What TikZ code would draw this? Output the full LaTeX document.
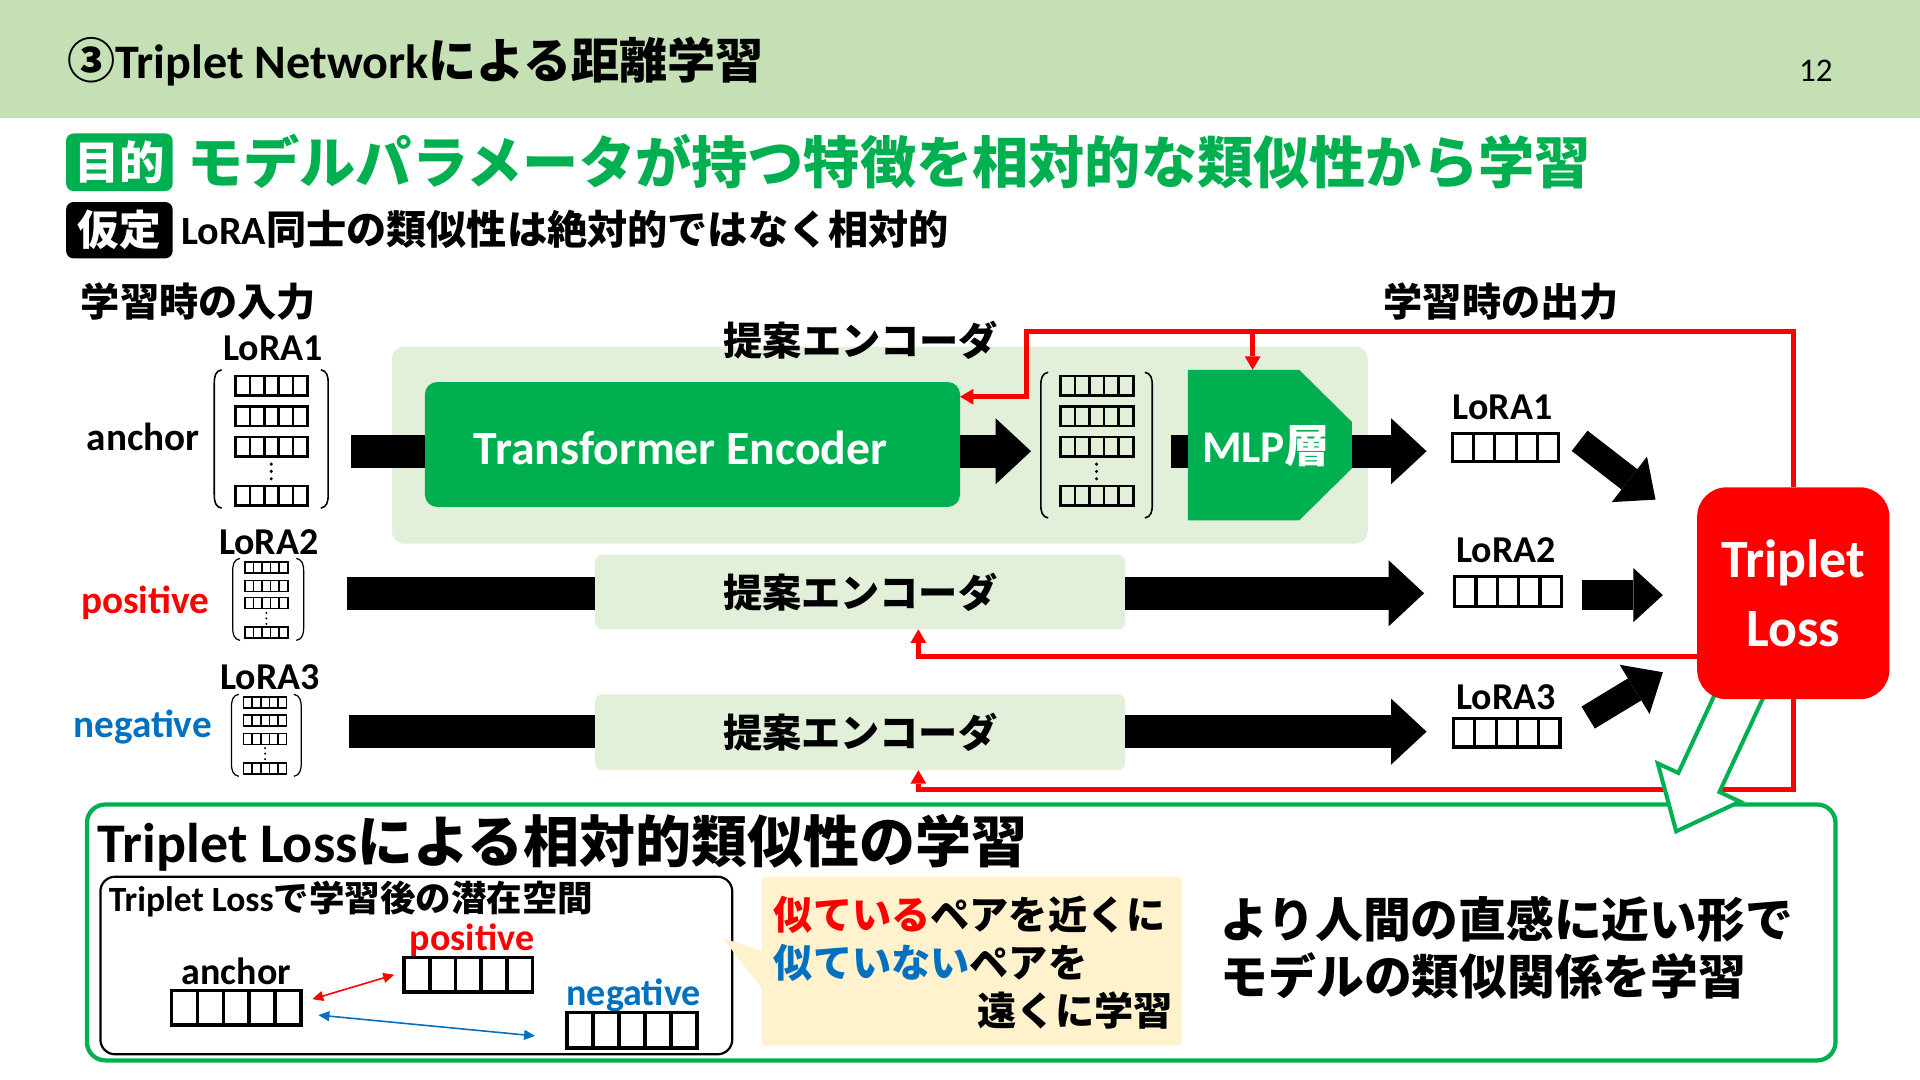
\documentclass[tikz,border=0pt]{standalone}
\usepackage{fontspec}
\setmainfont{Carlito}
\newfontfamily\jpfont{Noto Sans CJK JP}
\usetikzlibrary{arrows.meta}
\definecolor{hdr}{HTML}{C5E0B4}
\definecolor{gr}{HTML}{00B050}
\definecolor{lgr}{HTML}{E2F0D9}
\definecolor{rd}{HTML}{FF0000}
\definecolor{bl}{HTML}{0070C0}
\definecolor{yl}{HTML}{FFF2CC}
% automatic switch to the Japanese font for CJK characters
\XeTeXinterchartokenstate=1
\newXeTeXintercharclass\JPclass
\newcount\jpcnt
\def\jprange#1#2{\jpcnt=#1\relax\loop\XeTeXcharclass\jpcnt=\JPclass\relax\ifnum\jpcnt<#2\advance\jpcnt by 1\repeat}
\jprange{"3000}{"30FF}
\jprange{"4E00}{"9FFF}
\jprange{"FF00}{"FFEF}
\jprange{"2460}{"24FF}
\XeTeXinterchartoks 0 \JPclass = {\jpfont}
\XeTeXinterchartoks 4095 \JPclass = {\jpfont}
\XeTeXinterchartoks \JPclass 0 = {\rmfamily}
\XeTeXinterchartoks \JPclass 4095 = {\rmfamily}
\tikzset{pics/cellrow/.style 2 args={code={\foreach \i in {0,...,4}{\draw (\i*#1,0) rectangle ++(#1,#2);}}}}
\newcommand\lorabrk[5]{%
 \draw[line width=#5] ({#1+6},#3) .. controls ({#1+1},{#3+1}) and (#1,{#3+5}) .. (#1,{#3+11}) -- (#1,{#4-11}) .. controls (#1,{#4-5}) and ({#1+1},{#4-1}) .. ({#1+6},#4);
 \draw[line width=#5] ({#2-6},#3) .. controls ({#2-1},{#3+1}) and (#2,{#3+5}) .. (#2,{#3+11}) -- (#2,{#4-11}) .. controls (#2,{#4-5}) and ({#2-1},{#4-1}) .. ({#2-6},#4);
}
\newcommand\loradots[4]{\foreach \k in {0,1,2}{\fill (#1,{#2+\k*#3}) circle (#4);}}
\begin{document}
\begin{tikzpicture}[x=1pt,y=-1pt,
 every node/.style={inner sep=0pt,outer sep=0pt},
 ft/.style={font=\bfseries\fontsize{#1}{#1}\selectfont},
 ftt/.style 2 args={font=\bfseries\fontsize{#1}{#2}\selectfont},
 barl/.style={line width=27pt},
 fatarr/.style={line width=27pt,-{Triangle[length=29pt,width=54pt,line width=0pt]}},
 fatdiag/.style={line width=21pt,-{Triangle[length=27pt,width=47pt,line width=0pt]}},
 fatsmall/.style={line width=24pt,-{Triangle[length=24pt,width=44pt,line width=0pt]}},
 redl/.style={draw=rd,line width=3.9pt},
 redarr/.style={redl,-{Triangle[length=11pt,width=13pt,line width=0pt]}},
 thinarr/.style={line width=1.3pt,{Triangle[length=9pt,width=8pt]}-{Triangle[length=9pt,width=8pt]}},
 lbox/.style={fill=lgr,rounded corners=6pt},
]
\useasboundingbox (0,0) rectangle (1568,882);
\fill[white] (0,0) rectangle (1568,882);
% header
\fill[hdr] (0,0) rectangle (1568,96.5);
\node[ft=39.3,anchor=west] (title) at (55,50) {③Triplet Networkによる距離学習};
\node[font=\fontsize{27}{27}\selectfont] (pg) at (1483,58) {12};
% goal / assumption
\node[fill=gr,rounded corners=6pt,minimum width=87pt,minimum height=47pt,text=white,ft=37] (goal) at (97.5,132.5) {目的};
\node[ft=45.9,text=gr,anchor=west] (goaltxt) at (153,132) {モデルパラメータが持つ特徴を相対的な類似性から学習};
\node[fill=black,rounded corners=6pt,minimum width=87pt,minimum height=46pt,text=white,ft=34] (assume) at (97.5,188) {仮定};
\node[ft=32.8,anchor=west] (asmtxt) at (148,187) {LoRA同士の類似性は絶対的ではなく相対的};
% column headers
\node[ft=32] (inhdr) at (162,246) {学習時の入力};
\node[ft=32] (outhdr) at (1226,246) {学習時の出力};
% encoder boxes
\node[fill=lgr,rounded corners=10pt,minimum width=797pt,minimum height=161pt] (enc1) at (718.5,363.5) {};
\node[ft=32] (enc1lbl) at (703,278) {提案エンコーダ};
\node[fill=gr,rounded corners=10pt,minimum width=437pt,minimum height=102pt] (tfe) at (565.5,363) {};
\node[ft=39,text=white] (tfetxt) at (556,366) {Transformer Encoder};
\node[lbox,minimum width=433pt,minimum height=61pt,ft=32] (enc2) at (702.5,483.5) {提案エンコーダ};
\node[lbox,minimum width=433pt,minimum height=62pt,ft=32] (enc3) at (702.5,598) {提案エンコーダ};
% MLP
\node[minimum width=134pt,minimum height=123pt] (mlpb) at (1037,363.5) {};
\fill[gr] (mlpb.north west) -- ([xshift=-43pt]mlpb.north east) -- ([yshift=19pt]mlpb.east) -- ([yshift=-19pt]mlpb.east) -- ([xshift=-43pt]mlpb.south east) -- (mlpb.south west) -- cycle;
\node[ft=37,text=white] (mlp) at (1034,364) {MLP層};
% input labels
\node[ft=32] (anc) at (117,357) {anchor};
\node[ft=32,text=rd] (pos) at (118.5,492) {positive};
\node[ft=32,text=bl] (neg) at (116.5,594) {negative};
\node[ft=31] (in1) at (223,284.5) {LoRA1};
\node[ft=31] (in2) at (219.5,443) {LoRA2};
\node[ft=31] (in3) at (220.5,553) {LoRA3};
% input matrices
\foreach \yy in {307,332,357,397}{\pic[line width=2.2pt] at (192.5,\yy) {cellrow={11.7}{16}};}
\loradots{221.5}{379}{6}{1.4}
\lorabrk{175}{268}{302}{415}{1.3pt}
\foreach \yy in {459,474,488,512}{\pic[line width=1.3pt] at (200,\yy) {cellrow={7}{9}};}
\loradots{217.5}{500.5}{4.5}{0.9}
\lorabrk{190}{248}{456}{523}{1pt}
\foreach \yy in {569,584,599,623}{\pic[line width=1.3pt] at (199,\yy) {cellrow={7}{9}};}
\loradots{216.5}{611}{4.5}{0.9}
\lorabrk{189}{246}{567}{634}{1pt}
% middle matrix
\foreach \yy in {307,332,357,397}{\pic[line width=2.2pt] at (866,\yy) {cellrow={11.9}{16}};}
\loradots{895.5}{379}{6}{1.4}
\lorabrk{850}{941}{304}{423}{1.3pt}
% arrow coordinates
\coordinate (a1) at (287,368.5);
\coordinate (a2) at (842,368.5);
\coordinate (a3) at (956,368.5);
\coordinate (a4) at (1165,368.5);
\coordinate (b1) at (283,484.5);
\coordinate (b2) at (1163,484.5);
\coordinate (c1) at (285,597.5);
\coordinate (c2) at (1165,597.5);
\coordinate (d1s) at (1290,360);
\coordinate (d1e) at (1352,408);
\coordinate (d2s) at (1292,486);
\coordinate (d2e) at (1358,486);
\coordinate (d3s) at (1297,586);
\coordinate (d3e) at (1358,549);
% black arrows
\draw[barl] (a1) -- (tfe.west |- a1);
\draw[fatarr] (tfe.east |- a2) -- (a2);
\draw[barl] (a3) -- (mlpb.west |- a3);
\draw[fatarr] (mlpb.east |- a4) -- (a4);
\draw[barl] (b1) -- (enc2.west |- b1);
\draw[fatarr] (enc2.east |- b2) -- (b2);
\draw[barl] (c1) -- (enc3.west |- c1);
\draw[fatarr] (enc3.east |- c2) -- (c2);
\draw[fatdiag] (d1s) -- (d1e);
\draw[fatsmall] (d2s) -- (d2e);
\draw[fatdiag] (d3s) -- (d3e);
% outputs
\node[ft=31] (o1) at (1227,333) {LoRA1};
\node[ft=31] (o2) at (1230,449) {LoRA2};
\node[ft=31] (o3) at (1230,569) {LoRA3};
\pic[line width=2.6pt] at (1186,354) {cellrow={17.4}{23}};
\pic[line width=2.6pt] at (1188,471) {cellrow={17.4}{24}};
\pic[line width=2.6pt] at (1187,587) {cellrow={17.4}{23}};
% Triplet loss node outline (for anchors)
\path (1464.5,484.5) node[minimum width=157pt,minimum height=173pt] (tlb) {};
% red feedback lines
\coordinate (rk) at (838,271);
\coordinate (rk2) at (838,324);
\coordinate (rm) at (1023,271);
\coordinate (rmid) at (750,536);
\coordinate (rbot) at (750,645);
\draw[redarr] (tlb.north) -- (tlb.north |- rk) -- (rk) -- (rk2) -- (tfe.east |- rk2);
\draw[redarr] (rm) -- (rm |- mlpb.north);
\draw[redarr] (tlb.west |- rmid) -- (rmid) -- (enc2.south -| rmid);
\draw[redarr] (tlb.south) -- (tlb.south |- rbot) -- (rbot) -- (enc3.south -| rbot);
% bottom box
\node[draw=gr,line width=3.5pt,rounded corners=15pt,minimum width=1428pt,minimum height=209pt] (bbox) at (785,761.5) {};
% green block arrow
\begin{scope}[shift={(1425.3,557.4)},rotate=-114.9]
\filldraw[fill=white,draw=gr,line width=3.3pt] (0,-18.5) -- (90,-18.5) -- (90,-37) -- (134,0) -- (90,37) -- (90,18.5) -- (0,18.5) -- cycle;
\end{scope}
\node[fill=rd,rounded corners=24pt,minimum width=157pt,minimum height=173pt,text=white,align=center,ftt={44}{57}] (tl) at (1464.5,484.5) {Triplet\\Loss};
% bottom content
\node[ft=45.7,anchor=west] (btitle) at (80,688) {Triplet Lossによる相対的類似性の学習};
\node[draw,line width=1.8pt,rounded corners=12pt,minimum width=516pt,minimum height=145pt] (lat) at (340,788.5) {};
\node[ft=29,anchor=west] (lattl) at (89,734) {Triplet Lossで学習後の潜在空間};
\node[ft=31] (lanc) at (193,793) {anchor};
\node[ft=31,text=rd] (lpos) at (385.5,768) {positive};
\node[ft=31,text=bl] (lneg) at (517.5,813) {negative};
\pic[line width=3pt] at (140,809) {cellrow={21.2}{28}};
\pic[line width=3pt] at (330,782) {cellrow={21}{28}};
\pic[line width=3pt] at (463,827) {cellrow={21.2}{29}};
\coordinate (p1) at (255,816);
\coordinate (p2) at (322,796);
\coordinate (q1) at (260,829);
\coordinate (q2) at (437,846);
\draw[thinarr,draw=rd,fill=rd] (p1) -- (p2);
\draw[thinarr,draw=bl,fill=bl] (q1) -- (q2);
% callout
\fill[yl,rounded corners=3pt] (622,716) rectangle (965,854);
\fill[yl] (590,766) -- (623,777) -- (623,808) -- cycle;
\node[ftt={32}{39},text width=326pt,align=left] (cotxt) at (795,786) {{\color{rd}似ている}ペアを近くに\\{\color{bl}似ていない}ペアを\\\hspace*{\fill}遠くに学習};
\node[ftt={39}{46},anchor=west,align=left] (concl) at (997,774) {より人間の直感に近い形で\\モデルの類似関係を学習};
\end{tikzpicture}
\end{document}
